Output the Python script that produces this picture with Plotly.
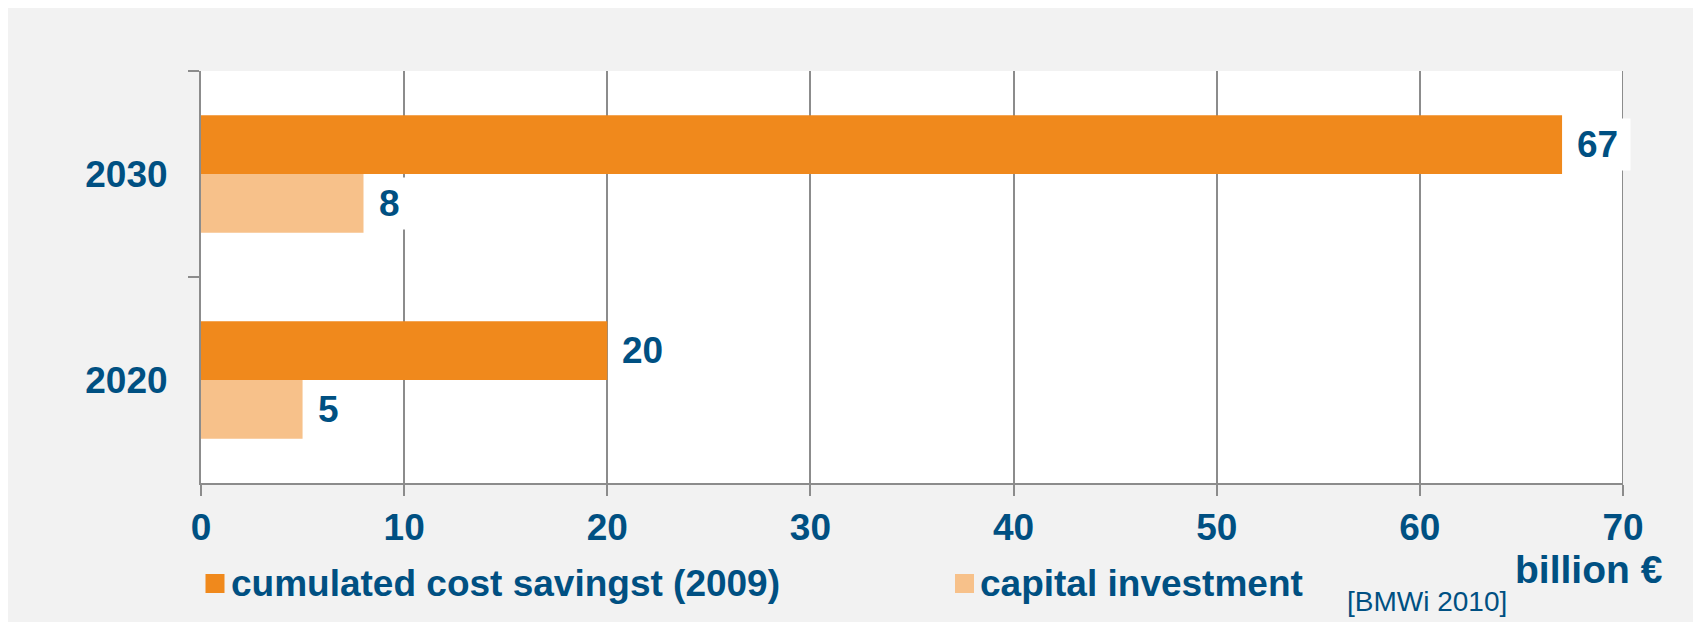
import plotly.graph_objects as go

# ---------------- data ----------------
years = ["2030", "2020"]
savings = [67, 20]
investment = [8, 5]
series_names = ["cumulated cost savingst (2009)", "capital investment"]
x_ticks = [0, 10, 20, 30, 40, 50, 60, 70]
unit_label = "billion €"
source_label = "[BMWi 2010]"

# ---------------- styles ----------------
ORANGE = "#F0891C"
LIGHT = "#F7C18A"
TEXT = "#005082"
GRID = "#8C8C8C"
BG = "#F2F2F2"
FONT = "Liberation Sans, Arial, sans-serif"
FS = 37

W, H = 1701, 622
OFF = 8  # page body margin
L, R, T, B = 193, 86, 63, 147
PW, PH = W - L - R, H - T - B
BARGAP = 0.43


def px_x(px):
    return (px - OFF - L) / PW


def px_y(py):
    return (H - B - (py - OFF)) / PH


fig = go.Figure()
fig.add_trace(go.Bar(y=years, x=savings, orientation="h", name=series_names[0],
                     marker=dict(color=ORANGE, line=dict(width=0)), showlegend=False,
                     hoverinfo="x+y"))
fig.add_trace(go.Bar(y=years, x=investment, orientation="h", name=series_names[1],
                     marker=dict(color=LIGHT, line=dict(width=0)), showlegend=False,
                     hoverinfo="x+y"))

shapes = [
    # white plot area
    dict(type="rect", xref="paper", yref="paper", x0=0, x1=1, y0=0, y1=1,
         fillcolor="white", line=dict(width=0), layer="below"),
    # grid line at the right end of the axis
    dict(type="line", xref="x", yref="paper", x0=x_ticks[-1], x1=x_ticks[-1],
         y0=0, y1=1, line=dict(color=GRID, width=2), layer="below"),
]

annotations = []
band_px = PH / len(years)
bar_px = band_px * (1 - BARGAP) / 2
char_w = 0.556 * FS
for vals, sign in ((savings, 1), (investment, -1)):
    for i, v in enumerate(vals):
        txt = str(v)
        annotations.append(dict(
            x=v, y=i, xref="x", yref="y", text=txt, showarrow=False,
            xanchor="left", yanchor="middle", yshift=sign * bar_px / 2, xshift=2,
            width=len(txt) * char_w + 24, height=51, borderpad=0, align="center",
            bgcolor="white", font=dict(family=FONT, size=FS, color=TEXT, weight="bold")))

# manual legend
legend_items = [(series_names[0], ORANGE, 205.5), (series_names[1], LIGHT, 955)]
for name, col, x0 in legend_items:
    shapes.append(dict(type="rect", xref="paper", yref="paper",
                       x0=px_x(x0), x1=px_x(x0 + 19), y0=px_y(593), y1=px_y(574),
                       fillcolor=col, line=dict(width=0)))
    annotations.append(dict(x=px_x(x0 + 23), y=px_y(583), xref="paper", yref="paper",
                            text=name, showarrow=False, xanchor="left", yanchor="middle",
                            font=dict(family=FONT, size=FS, color=TEXT, weight="bold")))

annotations.append(dict(x=px_x(1513), y=px_y(569), xref="paper", yref="paper",
                        text=unit_label, showarrow=False, xanchor="left", yanchor="middle",
                        font=dict(family=FONT, size=39, color=TEXT, weight="bold")))
annotations.append(dict(x=px_x(1345), y=px_y(601), xref="paper", yref="paper",
                        text=source_label, showarrow=False, xanchor="left", yanchor="middle",
                        font=dict(family=FONT, size=28, color=TEXT)))

fig.update_layout(
    width=W, height=H,
    margin=dict(l=L, r=R, t=T, b=B, pad=0),
    paper_bgcolor=BG, plot_bgcolor="rgba(0,0,0,0)",
    barmode="group", bargap=BARGAP, bargroupgap=0,
    showlegend=False,
    shapes=shapes, annotations=annotations,
    font=dict(family=FONT, color=TEXT),
    xaxis=dict(range=[x_ticks[0], x_ticks[-1]], tickvals=x_ticks, ticktext=[str(t) for t in x_ticks],
               showgrid=True, gridcolor=GRID, gridwidth=2, zeroline=False,
               showline=True, linecolor=GRID, linewidth=2,
               ticks="outside", ticklen=11, tickwidth=2, tickcolor=GRID,
               tickfont=dict(family=FONT, size=FS, color=TEXT, weight="bold"),
               fixedrange=True),
    yaxis=dict(type="category", categoryorder="array", categoryarray=years,
               range=[len(years) - 0.5, -0.5], autorange=False,
               showgrid=False, zeroline=False,
               showline=True, linecolor=GRID, linewidth=2,
               ticks="outside", tickson="boundaries", ticklen=11, tickwidth=2, tickcolor=GRID,
               ticklabelstandoff=24,
               tickfont=dict(family=FONT, size=FS, color=TEXT, weight="bold"),
               fixedrange=True),
)

fig.write_html("out.html")
